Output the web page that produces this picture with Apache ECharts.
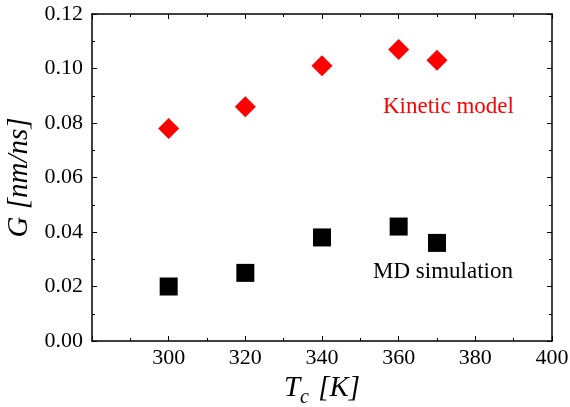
<!DOCTYPE html>
<html>
<head>
<meta charset="utf-8">
<script src="https://cdn.jsdelivr.net/npm/echarts@6/dist/echarts.min.js"></script>
<style>
  html, body { margin: 0; padding: 0; background: #fff; }
  #chart { width: 570px; height: 407px; }
</style>
</head>
<body>
<div id="chart"></div>
<script>
// temperatures (K)
var temps = [300, 320, 340, 360, 370];
// growth rate G (nm/ns)
var kinetic = [0.078, 0.086, 0.101, 0.107, 0.103];
var mdSim = [0.020, 0.025, 0.038, 0.042, 0.036];

var serif = 'Liberation Serif';

function pairs(xs, ys) {
  return xs.map(function (x, i) { return [x, ys[i]]; });
}

var chart = echarts.init(document.getElementById('chart'));

var axisCommon = {
  axisLine: { show: true, onZero: false, lineStyle: { color: '#000', width: 1.5 } },
  axisTick: { show: true, inside: true, length: 5, lineStyle: { color: '#000', width: 1 } },
  minorTick: { show: true, splitNumber: 2, length: 3, lineStyle: { color: '#000', width: 1 } },
  splitLine: { show: false }
};

var option = {
  animation: false,
  backgroundColor: '#fff',
  textStyle: { fontFamily: serif },
  grid: { left: 92, right: 18, top: 14, bottom: 66, outerBoundsMode: 'none', containLabel: false },
  xAxis: [
    Object.assign({
      type: 'value', min: 280, max: 400, interval: 20, position: 'bottom',
      name: '{i|T}{s|c}{i| [K]}',
      nameLocation: 'middle', nameGap: 26,
      nameTextStyle: {
        rich: {
          i: { fontFamily: serif, fontStyle: 'italic', fontSize: 29, color: '#000' },
          s: { fontFamily: serif, fontStyle: 'italic', fontSize: 20, color: '#000', padding: [18, 2, 0, 0] }
        }
      },
      axisLabel: {
        fontFamily: serif, fontSize: 22, color: '#000', margin: 6,
        formatter: function (v) { return v === 280 ? '' : String(v); }
      }
    }, axisCommon),
    Object.assign({
      type: 'value', min: 280, max: 400, interval: 20, position: 'top',
      axisLabel: { show: false }
    }, axisCommon)
  ],
  yAxis: [
    Object.assign({
      type: 'value', min: 0, max: 0.12, interval: 0.02, position: 'left',
      name: 'G [nm/ns]',
      nameLocation: 'middle', nameGap: 53,
      nameTextStyle: { fontFamily: serif, fontStyle: 'italic', fontSize: 29, color: '#000' },
      axisLabel: {
        fontFamily: serif, fontSize: 22, color: '#000', margin: 9,
        formatter: function (v) { return v.toFixed(2); }
      }
    }, axisCommon),
    Object.assign({
      type: 'value', min: 0, max: 0.12, interval: 0.02, position: 'right',
      axisLabel: { show: false }
    }, axisCommon)
  ],
  series: [
    {
      name: 'Kinetic model', type: 'scatter',
      symbol: 'diamond', symbolSize: 21,
      itemStyle: { color: '#ff0000', opacity: 1 },
      data: pairs(temps, kinetic)
    },
    {
      name: 'MD simulation', type: 'scatter',
      symbol: 'rect', symbolSize: 18,
      itemStyle: { color: '#000', opacity: 1 },
      data: pairs(temps, mdSim)
    }
  ],
  graphic: [
    {
      type: 'text', left: 383, top: 95,
      style: { text: 'Kinetic model', fill: '#ff0000', fontFamily: serif, fontSize: 23 }
    },
    {
      type: 'text', left: 373, top: 260,
      style: { text: 'MD simulation', fill: '#000', fontFamily: serif, fontSize: 23 }
    }
  ]
};

chart.setOption(option);
</script>
</body>
</html>
